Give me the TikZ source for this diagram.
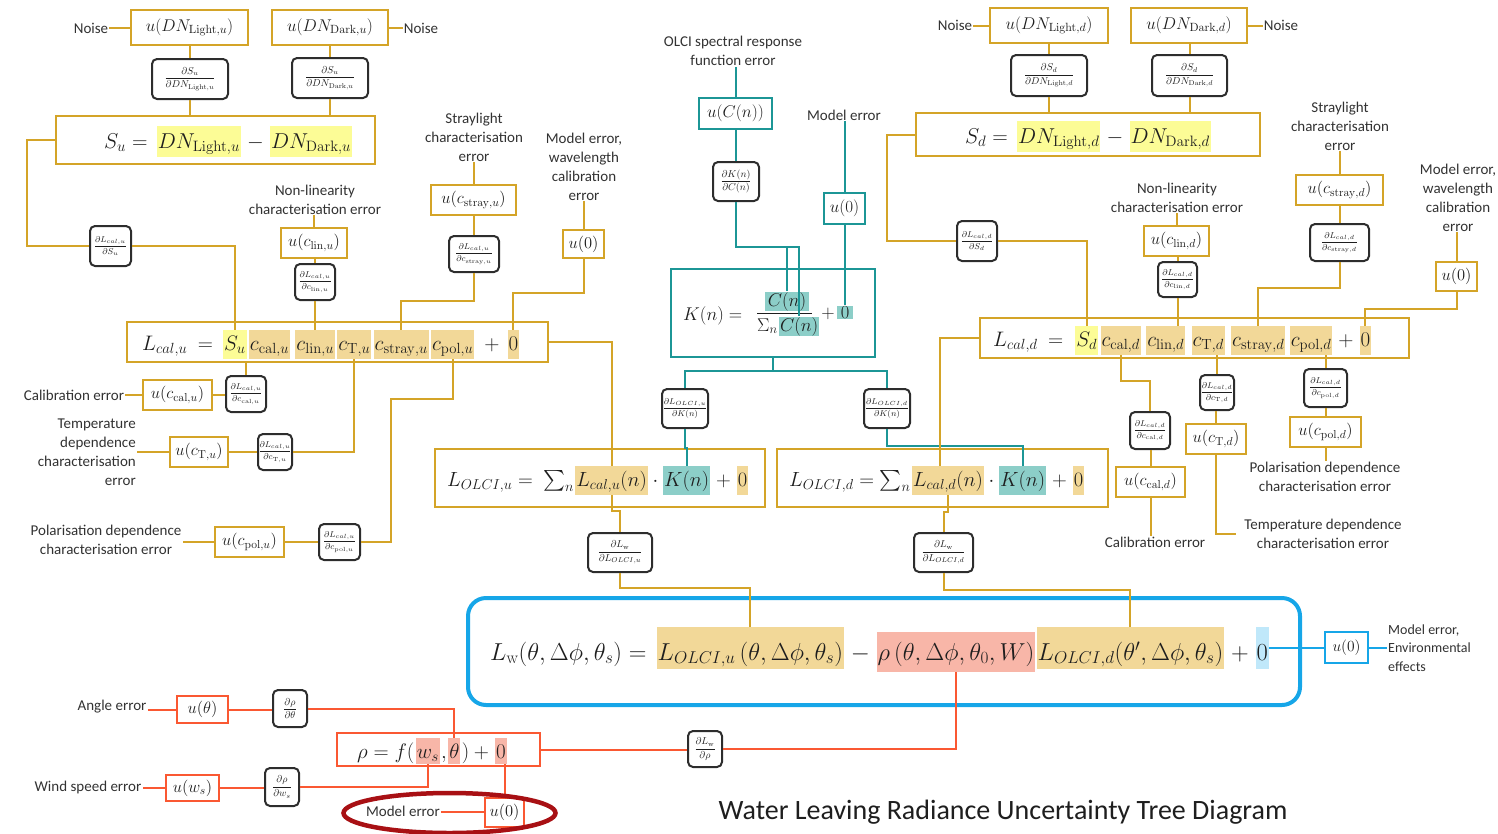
\RequirePackage{fix-cm}
\documentclass[tikz,border=0pt]{standalone}
\usepackage{amsmath}
\usepackage[no-math]{fontspec}
\setmainfont{Carlito}
\usetikzlibrary{calc}
\definecolor{gold}{RGB}{212,164,40}
\definecolor{tanc}{RGB}{242,216,152}
\definecolor{yelh}{RGB}{252,252,150}
\definecolor{tealc}{RGB}{28,150,150}
\definecolor{tealh}{RGB}{140,206,200}
\definecolor{bluec}{RGB}{22,166,232}
\definecolor{blueh}{RGB}{192,232,250}
\definecolor{redc}{RGB}{250,88,50}
\definecolor{salh}{RGB}{248,182,168}
\definecolor{dred}{RGB}{168,16,20}
\definecolor{pk}{RGB}{45,45,45}
\definecolor{labc}{RGB}{50,50,50}
\definecolor{eqc}{RGB}{30,30,30}
\newcommand\pf[2]{$\dfrac{#1}{#2}$}
\begin{document}
\begin{tikzpicture}[x=1pt,y=-1pt,
 lab/.style={font=\fontsize{15}{19}\selectfont, text=labc, align=center, inner sep=1pt},
 gb/.style={draw=gold, line width=2.2pt, fill=white, inner sep=0pt, text=eqc},
 tb/.style={draw=tealc, line width=2.2pt, fill=white, inner sep=0pt, text=eqc},
 rb/.style={draw=redc, line width=2pt, fill=white, inner sep=0pt, text=eqc},
 pb/.style={draw=pk, line width=2pt, rounded corners=5pt, fill=white, inner sep=0pt, text=eqc, font=\fontsize{8.5}{9}\selectfont},
 pbl/.style={pb, font=\fontsize{10}{11}\selectfont},
 gl/.style={draw=gold, line width=2pt},
 tl/.style={draw=tealc, line width=2pt},
 rl/.style={draw=redc, line width=2pt},
 bl/.style={draw=bluec, line width=2pt},
 tm/.style={anchor=base west, inner xsep=1pt, text=eqc},
 uA/.style={font=\fontsize{17}{20}\selectfont},
 uB/.style={font=\fontsize{16.5}{19}\selectfont},
 eqS/.style={font=\fontsize{21.5}{24}\selectfont, text height=20pt, text depth=7pt, inner ysep=2pt},
 eqL/.style={font=\fontsize{21}{24}\selectfont, text height=18pt, text depth=7pt, inner ysep=2pt},
 eqO/.style={font=\fontsize{20.5}{24}\selectfont, text height=18pt, text depth=7pt, inner ysep=2pt},
 eqW/.style={font=\fontsize{24.5}{28}\selectfont, text height=31pt, text depth=7pt, inner ysep=2pt},
 eqW2/.style={font=\fontsize{24.5}{28}\selectfont, text height=26pt, text depth=10pt, inner ysep=2pt},
 eqR/.style={font=\fontsize{21}{24}\selectfont, text height=18pt, text depth=4pt, inner ysep=2pt},
 eqK/.style={font=\fontsize{18.5}{22}\selectfont, inner ysep=0.5pt, text=eqc}]
\useasboundingbox (0,0) rectangle (1498,833);

% ---------------- top left ----------------
\node[lab] (nz1) at (91,28) {Noise};
\node[gb,uA,minimum width=117pt,minimum height=35pt] (A1) at (189.5,27.5) {$u(DN_{\mathrm{Light},u})$};
\node[gb,uA,minimum width=116pt,minimum height=35pt] (A2) at (330,27.5) {$u(DN_{\mathrm{Dark},u})$};
\node[lab] (nz2) at (421,28) {Noise};
\node[pbl,minimum width=76pt,minimum height=40pt] (P1) at (190,79) {\pf{\partial S_u}{\partial DN_{\mathrm{Light},u}}};
\node[pbl,minimum width=76pt,minimum height=40pt] (P2) at (330,78) {\pf{\partial S_u}{\partial DN_{\mathrm{Dark},u}}};
\node[gb,minimum width=319pt,minimum height=48pt] (subox) at (215.5,140) {};
\node[tm,eqS] (s0) at (103,148) {$S_u ={}$};
\node[tm,eqS,fill=yelh] (s1) at ([xshift=2pt]s0.base east) {$DN_{\mathrm{Light},u}$};
\node[tm,eqS] (s2) at (s1.base east) {${}-{}$};
\node[tm,eqS,fill=yelh] (s3) at (s2.base east) {$DN_{\mathrm{Dark},u}$};
\node[pb,minimum width=41pt,minimum height=40pt] (P3) at (110.5,246) {\pf{\partial L_{cal,u}}{\partial S_u}};
\node[lab] (labnlu) at (315,199.5) {Non-linearity\\characterisation error};
\node[gb,uB,minimum width=66pt,minimum height=30pt] (ulinu) at (314,243) {$u(c_{\mathrm{lin},u})$};
\node[pb,minimum width=40pt,minimum height=36pt] (plinu) at (315,282) {\pf{\partial L_{cal,u}}{\partial c_{\mathrm{lin},u}}};
\node[lab] (labstu) at (474,137) {Straylight\\characterisation\\error};
\node[gb,uB,minimum width=85pt,minimum height=30pt] (ustrayu) at (473.5,200) {$u(c_{\mathrm{stray},u})$};
\node[pb,minimum width=50pt,minimum height=36pt] (pstrayu) at (474,254) {\pf{\partial L_{cal,u}}{\partial c_{\mathrm{stray},u}}};
\node[lab] (labmu) at (584,166.5) {Model error,\\wavelength\\calibration\\error};
\node[gb,uB,minimum width=41pt,minimum height=28pt] (u0a) at (583.5,244) {$u(0)$};
\node[gb,minimum width=421pt,minimum height=40pt] (lcalu) at (337.5,342) {};
\node[tm,eqL] (lu0) at (141,350) {$L_{cal,u}\ ={}$};
\node[tm,eqL,fill=yelh] (lu1) at ([xshift=3pt]lu0.base east) {$S_u$};
\node[tm,eqL,fill=tanc] (lu2) at ([xshift=2pt]lu1.base east) {$c_{\mathrm{cal},u}$};
\node[tm,eqL,fill=tanc] (lu3) at ([xshift=5pt]lu2.base east) {$c_{\mathrm{lin},u}$};
\node[tm,eqL,fill=tanc] (lu4) at ([xshift=2pt]lu3.base east) {$c_{\mathrm{T},u}$};
\node[tm,eqL,fill=tanc] (lu5) at ([xshift=2pt]lu4.base east) {$c_{\mathrm{stray},u}$};
\node[tm,eqL,fill=tanc] (lu6) at ([xshift=2pt]lu5.base east) {$c_{\mathrm{pol},u}$};
\node[tm,eqL] (lu7) at ([xshift=4pt]lu6.base east) {${}+{}$};
\node[tm,eqL,fill=tanc] (lu8) at ([xshift=2pt]lu7.base east) {$0$};
\node[lab] (labcalu) at (74,395) {Calibration error};
\node[gb,uB,minimum width=69pt,minimum height=30pt] (ucalu) at (177.5,395) {$u(c_{\mathrm{cal},u})$};
\node[pb,minimum width=40pt,minimum height=36pt] (pcalu) at (246,394) {\pf{\partial L_{cal,u}}{\partial c_{\mathrm{cal},u}}};
\node[lab,align=right,anchor=east] (labTu) at (137,452) {Temperature\\dependence\\characterisation\\error};
\node[gb,uB,minimum width=58pt,minimum height=30pt] (uTu) at (199,452) {$u(c_{\mathrm{T},u})$};
\node[pb,minimum width=34pt,minimum height=36pt] (pTu) at (275,452) {\pf{\partial L_{cal,u}}{\partial c_{\mathrm{T},u}}};
\node[lab] (labpolu) at (106,539.5) {Polarisation dependence\\characterisation error};
\node[gb,uB,minimum width=69pt,minimum height=30pt] (upolu) at (249.5,542) {$u(c_{\mathrm{pol},u})$};
\node[pb,minimum width=41pt,minimum height=36pt] (ppolu) at (339.5,542) {\pf{\partial L_{cal,u}}{\partial c_{\mathrm{pol},u}}};

% ---------------- centre (teal) ----------------
\node[lab] (labolci) at (733,51) {OLCI spectral response\\function error};
\node[tb,uA,minimum width=73pt,minimum height=31pt] (uCn) at (735.5,113.5) {$u(C(n))$};
\node[pbl,minimum width=46pt,minimum height=39pt] (pK) at (736,181.5) {\pf{\partial K(n)}{\partial C(n)}};
\node[lab] (labmK) at (844,115) {Model error};
\node[tb,uA,minimum width=41pt,minimum height=31pt] (u0K) at (844.5,208.5) {$u(0)$};
\node[tb,minimum width=204pt,minimum height=88pt] (kbox) at (773,313) {};
\node[tm,eqK] (k0) at (682,320) {$K(n) ={}$};
\node[eqK,fill=tealh,anchor=base] (knum) at (787,306) {$C(n)$};
\node[eqK,anchor=base west,inner xsep=0pt] (ksig) at (757,331) {$\Sigma_n$};
\node[eqK,fill=tealh,anchor=base west,inner xsep=1pt] (kden) at ([xshift=1pt]ksig.base east) {$C(n)$};
\coordinate (kbarY) at (0,313);
\draw[eqc,line width=0.9pt] (ksig.west |- kbarY) -- ([xshift=2pt]knum.east |- kbarY);
\node[eqK,anchor=base] (kplus) at (828,318) {$+$};
\node[eqK,fill=tealh,anchor=base] (kz) at (845,318) {$0$};
\node[pb,minimum width=46pt,minimum height=39pt] (pKu) at (685,408.5) {\pf{\partial L_{OLCI,u}}{\partial K(n)}};
\node[pb,minimum width=46pt,minimum height=39pt] (pKd) at (887,408.5) {\pf{\partial L_{OLCI,d}}{\partial K(n)}};

\node[gb,minimum width=330pt,minimum height=58pt] (olciu) at (600,478) {};
\node[tm,eqO] (ou0) at (446,486) {$L_{OLCI,u} =\ \sum_n$};
\node[tm,eqO,fill=tanc] (ou1) at (ou0.base east) {$L_{cal,u}(n)$};
\node[tm,eqO] (ou2) at (ou1.base east) {$\,\cdot\,$};
\node[tm,eqO,fill=tealh] (ou3) at (ou2.base east) {$K(n)$};
\node[tm,eqO] (ou4) at (ou3.base east) {${}+{}$};
\node[tm,eqO,fill=tanc] (ou5) at (ou4.base east) {$0$};
\node[gb,minimum width=331pt,minimum height=58pt] (olcid) at (942.5,478) {};
\node[tm,eqO] (od0) at (788,486) {$L_{OLCI,d} = \sum_n$};
\node[tm,eqO,fill=tanc] (od1) at (od0.base east) {$L_{cal,d}(n)$};
\node[tm,eqO] (od2) at (od1.base east) {$\,\cdot\,$};
\node[tm,eqO,fill=tealh] (od3) at (od2.base east) {$K(n)$};
\node[tm,eqO] (od4) at (od3.base east) {${}+{}$};
\node[tm,eqO,fill=tanc] (od5) at (od4.base east) {$0$};
\node[pbl,minimum width=64pt,minimum height=39pt] (pLu) at (620,552.5) {\pf{\partial L_{\mathrm{w}}}{\partial L_{OLCI,u}}};
\node[pbl,minimum width=59pt,minimum height=39pt] (pLd) at (943.5,552.5) {\pf{\partial L_{\mathrm{w}}}{\partial L_{OLCI,d}}};

% ---------------- top right ----------------
\node[lab] (nz3) at (955,25) {Noise};
\node[gb,uA,minimum width=118pt,minimum height=35pt] (B1) at (1049,25.5) {$u(DN_{\mathrm{Light},d})$};
\node[gb,uA,minimum width=116pt,minimum height=35pt] (B2) at (1189,25.5) {$u(DN_{\mathrm{Dark},d})$};
\node[lab] (nz4) at (1281,25) {Noise};
\node[pbl,minimum width=76pt,minimum height=41pt] (Q1) at (1049,75.5) {\pf{\partial S_d}{\partial DN_{\mathrm{Light},d}}};
\node[pbl,minimum width=75pt,minimum height=41pt] (Q2) at (1189.5,75.5) {\pf{\partial S_d}{\partial DN_{\mathrm{Dark},d}}};
\node[gb,minimum width=344pt,minimum height=43pt] (sdbox) at (1088,134.5) {};
\node[tm,eqS] (sd0) at (964,143) {$S_d ={}$};
\node[tm,eqS,fill=yelh] (sd1) at ([xshift=2pt]sd0.base east) {$DN_{\mathrm{Light},d}$};
\node[tm,eqS] (sd2) at (sd1.base east) {${}-{}$};
\node[tm,eqS,fill=yelh] (sd3) at (sd2.base east) {$DN_{\mathrm{Dark},d}$};
\node[pb,minimum width=40pt,minimum height=40pt] (Q3) at (977,241) {\pf{\partial L_{cal,d}}{\partial S_d}};
\node[lab] (labnld) at (1177,197.5) {Non-linearity\\characterisation error};
\node[gb,uB,minimum width=65pt,minimum height=30pt] (ulind) at (1176.5,241) {$u(c_{\mathrm{lin},d})$};
\node[pb,minimum width=39pt,minimum height=35pt] (plind) at (1177.5,279.5) {\pf{\partial L_{cal,d}}{\partial c_{\mathrm{lin},d}}};
\node[lab] (labstd) at (1340,126) {Straylight\\characterisation\\error};
\node[gb,uB,minimum width=87pt,minimum height=30pt] (ustrayd) at (1339.5,190) {$u(c_{\mathrm{stray},d})$};
\node[pb,minimum width=59pt,minimum height=37pt] (pstrayd) at (1339.5,242.5) {\pf{\partial L_{cal,d}}{\partial c_{\mathrm{stray},d}}};
\node[lab] (labmd) at (1458,197.5) {Model error,\\wavelength\\calibration\\error};
\node[gb,uB,minimum width=41pt,minimum height=29pt] (u0d) at (1456.5,276.5) {$u(0)$};
\node[gb,minimum width=429pt,minimum height=40pt] (lcald) at (1194.5,338) {};
\node[tm,eqL] (ld0) at (992,346) {$L_{cal,d}\ ={}$};
\node[tm,eqL,fill=yelh] (ld1) at ([xshift=5pt]ld0.base east) {$S_d$};
\node[tm,eqL,fill=tanc] (ld2) at ([xshift=2pt]ld1.base east) {$c_{\mathrm{cal},d}$};
\node[tm,eqL,fill=tanc] (ld3) at ([xshift=5pt]ld2.base east) {$c_{\mathrm{lin},d}$};
\node[tm,eqL,fill=tanc] (ld4) at ([xshift=6pt]ld3.base east) {$c_{\mathrm{T},d}$};
\node[tm,eqL,fill=tanc] (ld5) at ([xshift=6pt]ld4.base east) {$c_{\mathrm{stray},d}$};
\node[tm,eqL,fill=tanc] (ld6) at ([xshift=4pt]ld5.base east) {$c_{\mathrm{pol},d}$};
\node[tm,eqL] (ld7) at (ld6.base east) {${}+{}$};
\node[tm,eqL,fill=tanc] (ld8) at (ld7.base east) {$0$};
\node[pb,minimum width=40pt,minimum height=37pt] (pcald) at (1150,430.5) {\pf{\partial L_{cal,d}}{\partial c_{\mathrm{cal},d}}};
\node[gb,uB,minimum width=69pt,minimum height=30pt] (ucald) at (1150.5,482) {$u(c_{\mathrm{cal},d})$};
\node[lab] (labcald) at (1155,542) {Calibration error};
\node[pb,minimum width=34pt,minimum height=35pt] (pTd) at (1217,392.5) {\pf{\partial L_{cal,d}}{\partial c_{\mathrm{T},d}}};
\node[gb,uB,minimum width=60pt,minimum height=30pt] (uTd) at (1216,439) {$u(c_{\mathrm{T},d})$};
\node[lab] (labTd) at (1323,533.5) {Temperature dependence\\characterisation error};
\node[pb,minimum width=43pt,minimum height=38pt] (ppold) at (1325.5,388) {\pf{\partial L_{cal,d}}{\partial c_{\mathrm{pol},d}}};
\node[gb,uB,minimum width=71pt,minimum height=30pt] (upold) at (1325.5,432) {$u(c_{\mathrm{pol},d})$};
\node[lab] (labpold) at (1325,476.5) {Polarisation dependence\\characterisation error};

% ---------------- water leaving radiance ----------------
\node[draw=bluec,line width=4pt,rounded corners=18pt,minimum width=832pt,minimum height=107pt,fill=white] (lwbox) at (884,651.5) {};
\node[tm,eqW] (w0) at (489,660) {$L_{\mathrm{w}}(\theta,\Delta\phi,\theta_s) ={}$};
\node[tm,eqW,fill=tanc] (w1) at ([xshift=2pt]w0.base east) {$L_{OLCI,u}\,(\theta,\Delta\phi,\theta_s)$};
\node[tm,eqW] (w2) at (w1.base east) {${}-{}$};
\node[tm,eqW2,fill=salh] (w3) at (w2.base east) {$\rho\,(\theta,\Delta\phi,\theta_0,W)$};
\node[tm,eqW,fill=tanc] (w4) at ([xshift=1pt]w3.base east) {$L_{OLCI,d}(\theta',\Delta\phi,\theta_s)$};
\node[tm,eqW] (w5) at (w4.base east) {${}+{}$};
\node[tm,eqW,fill=blueh] (w6) at (w5.base east) {$0$};
\node[draw=bluec,line width=2pt,fill=white,inner sep=0pt,minimum width=43pt,minimum height=31pt,font=\fontsize{15.5}{18}\selectfont,text=eqc] (u0w) at (1346.5,647.5) {$u(0)$};
\node[lab,align=left,anchor=west,font=\fontsize{14}{18.5}\selectfont] (labenv) at (1387,648) {Model error,\\Environmental\\effects};

% ---------------- rho (red) ----------------
\node[lab] (labang) at (112,707) {Angle error};
\node[rb,uB,minimum width=51pt,minimum height=27pt] (uth) at (202.5,709.5) {$u(\theta)$};
\node[pbl,minimum width=34pt,minimum height=37pt] (pth) at (290,708.5) {\pf{\partial\rho}{\partial\theta}};
\node[rb,minimum width=203pt,minimum height=33pt] (rbox) at (438.5,749.5) {};
\node[tm,eqR] (r0) at (356,758) {$\rho = f($};
\node[tm,eqR,fill=salh] (r1) at (r0.base east) {$w_s$};
\node[tm,eqR] (r2) at (r1.base east) {$,$};
\node[tm,eqR,fill=salh] (r3) at (r2.base east) {$\theta$};
\node[tm,eqR] (r4) at (r3.base east) {$)+{}$};
\node[tm,eqR,fill=salh] (r5) at (r4.base east) {$0$};
\node[lab] (labws) at (88,787) {Wind speed error};
\node[rb,uB,minimum width=53pt,minimum height=26pt] (uws) at (192.5,788) {$u(w_s)$};
\node[pbl,minimum width=34pt,minimum height=38pt] (pws) at (282,787) {\pf{\partial\rho}{\partial w_s}};
\node[lab] (labmr) at (403,811) {Model error};
\node[rb,uB,minimum width=39pt,minimum height=29pt] (u0r) at (504.5,812) {$u(0)$};
\node[pbl,minimum width=34pt,minimum height=36pt] (pLr) at (705,749) {\pf{\partial L_{\mathrm{w}}}{\partial\rho}};

\node[font=\fontsize{28}{32}\selectfont,text=eqc] (title) at (1003,812) {Water Leaving Radiance Uncertainty Tree Diagram};

% ---------------- connectors: left ----------------
\draw[gl] (A1.west) -- (A1.west -| nz1.east);
\draw[gl] (A2.east) -- (A2.east -| nz2.west);
\draw[gl] (P1.north) -- (P1.north |- A1.south);
\draw[gl] (P1.south) -- (P1.south |- subox.north);
\draw[gl] (P2.north) -- (P2.north |- A2.south);
\draw[gl] (P2.south) -- (P2.south |- subox.north);
\draw[gl] (subox.west) -- ++(-28,0) |- (P3.west);
\draw[gl] (P3.east) -| (lu1.north);
\draw[gl] (ulinu.north) -- (ulinu.north |- labnlu.south);
\draw[gl] (plinu.north) -- (plinu.north |- ulinu.south);
\draw[gl] (plinu.south) -- (plinu.south |- lu3.north);
\draw[gl] (ustrayu.north) -- (ustrayu.north |- labstu.south);
\draw[gl] (pstrayu.north) -- (pstrayu.north |- ustrayu.south);
\draw[gl] (pstrayu.south) -- ++(0,28) -| (lu5.north);
\draw[gl] (u0a.north) -- (u0a.north |- labmu.south);
\draw[gl] (u0a.south) -- ++(0,34) -| (lu8.north);
\draw[gl] (lcalu.east) -| (ou1.north);
\draw[gl] (ucalu.west) -- (ucalu.west -| labcalu.east);
\draw[gl] (ucalu.east) -- (ucalu.east -| pcalu.west);
\draw[gl] (pcalu.north) -- (pcalu.north |- lcalu.south);
\draw[gl] (uTu.west) -- (uTu.west -| labTu.east);
\draw[gl] (uTu.east) -- (uTu.east -| pTu.west);
\draw[gl] (pTu.east) -| (lu4.south);
\draw[gl] (upolu.west) -- (upolu.west -| labpolu.east);
\draw[gl] (upolu.east) -- (upolu.east -| ppolu.west);
\draw[gl] (ppolu.east) -- ++(30,0) |- ($(lu6.south)+(0,40)$) -- (lu6.south);

% ---------------- connectors: centre ----------------
\draw[tl] (uCn.north) -- (uCn.north |- labolci.south);
\draw[tl] (pK.north) -- (pK.north |- uCn.south);
\draw[tl] (pK.south) -- ++(0,45) -| (knum.north);
\draw[tl] (pK.south) -- ++(0,45) -| (kden.north);
\draw[tl] (u0K.north) -- (u0K.north |- labmK.south);
\draw[tl] (u0K.south) -- (u0K.south |- kz.north);
\draw[tl] (kbox.south) -- ++(0,13) coordinate (ks);
\draw[tl] (pKu.north) |- (ks) -| (pKd.north);
\draw[tl] (pKu.south) -- ++(0,19) -| (ou3.north);
\draw[tl] (pKd.south) -- ++(0,17) -| (od3.north);
\draw[gl] (lcald.west) -| ($(od1.north)+(-8,0)$);
\draw[gl] (ou1.south) |- ($(pLu.north)+(0,-21)$) -| (pLu.north);
\draw[gl] (pLu.south) -- ++(0,15) -| (w1.north);
\draw[gl] (od1.south) |- ($(pLd.north)+(0,-20)$) -| (pLd.north);
\draw[gl] (pLd.south) -- ++(0,17) -| (w4.north);

% ---------------- connectors: right ----------------
\draw[gl] (B1.west) -- (B1.west -| nz3.east);
\draw[gl] (B2.east) -- (B2.east -| nz4.west);
\draw[gl] (Q1.north) -- (Q1.north |- B1.south);
\draw[gl] (Q1.south) -- (Q1.south |- sdbox.north);
\draw[gl] (Q2.north) -- (Q2.north |- B2.south);
\draw[gl] (Q2.south) -- (Q2.south |- sdbox.north);
\draw[gl] (sdbox.west) -- ++(-28,0) |- (Q3.west);
\draw[gl] (Q3.east) -| (ld1.north);
\draw[gl] (ulind.north) -- (ulind.north |- labnld.south);
\draw[gl] (plind.north) -- (plind.north |- ulind.south);
\draw[gl] (plind.south) -- (plind.south |- ld3.north);
\draw[gl] (ustrayd.north) -- (ustrayd.north |- labstd.south);
\draw[gl] (pstrayd.north) -- (pstrayd.north |- ustrayd.south);
\draw[gl] (pstrayd.south) -- ++(0,26) -| (ld5.north);
\draw[gl] (u0d.north) -- (u0d.north |- labmd.south);
\draw[gl] (u0d.south) -- ++(0,17) -| (ld8.north);
\draw[gl] (ld2.south) |- ($(pcald.north)+(0,-30)$) -| (pcald.north);
\draw[gl] (ucald.north) -- (ucald.north |- pcald.south);
\draw[gl] (ucald.south) -- (ucald.south |- labcald.north);
\draw[gl] (pTd.north) -- (pTd.north |- ld4.south);
\draw[gl] (uTd.north) -- (uTd.north |- pTd.south);
\draw[gl] (uTd.south) |- ([xshift=-7pt]labTd.west);
\draw[gl] (ppold.north) -- (ppold.north |- ld6.south);
\draw[gl] (upold.north) -- (upold.north |- ppold.south);
\draw[gl] (upold.south) -- (upold.south |- labpold.north);

% ---------------- connectors: blue / red ----------------
\draw[bl] (u0w.west) -- (u0w.west -| w6.east);
\draw[bl] (u0w.east) -- (u0w.east -| labenv.west);
\draw[rl] (uth.west) -- (uth.west -| labang.east);
\draw[rl] (uth.east) -- (uth.east -| pth.west);
\draw[rl] (pth.east) -| (r3.north);
\draw[rl] (uws.west) -- (uws.west -| labws.east);
\draw[rl] (uws.east) -- (uws.east -| pws.west);
\draw[rl] (pws.east) -| (r1.south);
\draw[rl] (u0r.west) -- (u0r.west -| labmr.east);
\draw[rl] (u0r.north) -- (u0r.north |- r5.south);
\draw[rl] (rbox.east) -- (rbox.east -| pLr.west);
\draw[rl] (pLr.east) -| (w3.south);

\draw[dred,line width=4.5pt] (449.5,813) ellipse [x radius=106pt, y radius=20pt];
\end{tikzpicture}
\end{document}
